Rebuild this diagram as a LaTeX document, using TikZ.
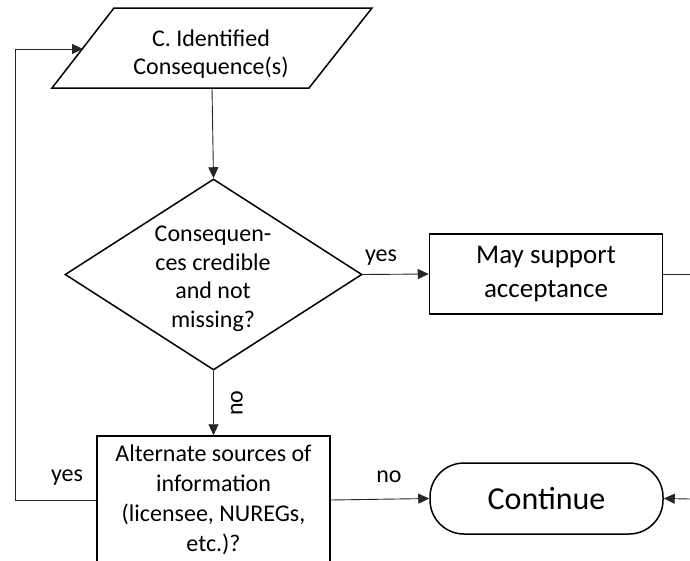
\documentclass[tikz,border=0pt]{standalone}
\usepackage{fontspec}
\setmainfont{Carlito}
\usetikzlibrary{arrows.meta,shapes.geometric}
\begin{document}
\begin{tikzpicture}[x=1pt,y=-1pt,
  box/.style={draw, line width=1.5pt, inner sep=0pt, align=center},
  conn/.style={line width=0.9pt, draw=black!85},
  arr/.style={conn, -{Triangle[length=11pt,width=10pt]}},
  lbl/.style={font=\fontsize{24}{30}\selectfont, inner sep=0pt},
  txt/.style={font=\fontsize{24}{30}\selectfont, align=center, inner sep=0pt}]
\useasboundingbox (0,0) rectangle (690,560);
\clip (0,0) rectangle (690,560);
% parallelogram
\coordinate (p1) at (114,8);
\coordinate (p2) at (372,8);
\coordinate (p3) at (309,88);
\coordinate (p4) at (52,88);
\draw[line width=1.5pt, line join=miter] (p1) -- (p2) -- (p3) -- (p4) -- cycle;
\coordinate (cb) at (212,88);
\coordinate (cl) at (83,49);
\node[txt, font=\fontsize{24}{28}\selectfont] (ct) at (211,54) {C. Identified\\Consequence(s)};
% other shapes
\node[box, diamond, minimum width=297pt, minimum height=191pt] (d) at (213.5,274.5) {};
\node[txt, font=\fontsize{24}{28.5}\selectfont] (dt) at (213,279) {Consequen-\\ces credible\\and not\\missing?};
\node[box, minimum width=233pt, minimum height=80pt, font=\fontsize{27}{34}\selectfont] (r1) at (546,274) {May support\\acceptance};
\node[box, minimum width=233pt, minimum height=128pt, font=\fontsize{24}{30}\selectfont] (r2) at (213.5,500) {Alternate sources of\\information\\(licensee, NUREGs,\\etc.)?};
\node[box, rectangle, rounded corners=34pt, minimum width=233pt, minimum height=71pt, font=\fontsize{32}{38}\selectfont] (cont) at (546.5,498.5) {Continue};
% connectors
\coordinate (e1) at (690,274);
\coordinate (e2) at (690,499);
\coordinate (lx) at (15,0);
\draw[arr] (cb) -- (d.north);
\draw[arr] (d.east) -- (r1.west);
\draw[conn] (r1.east) -- (e1);
\draw[arr] (d.south) -- (r2.north);
\draw[arr] (r2.west) -- (r2.west -| lx) |- (cl);
\draw[arr] (r2.east) -- (cont.west);
\draw[arr] (e2) -- (cont.east);
% labels
\node[lbl] (yes1) at (381,258) {yes};
\node[lbl, rotate=90] (no1) at (237,403) {no};
\node[lbl] (yes2) at (67,478) {yes};
\node[lbl] (no2) at (389,477) {no};
\end{tikzpicture}
\end{document}
